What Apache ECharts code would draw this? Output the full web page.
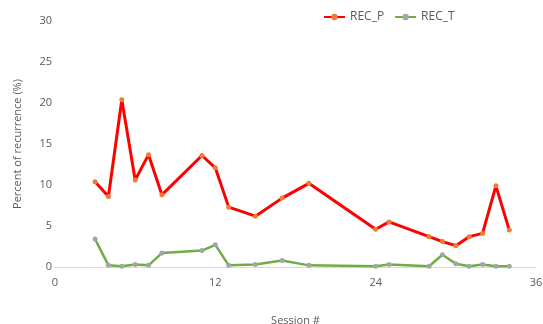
<!DOCTYPE html>
<html><head><meta charset="utf-8">
<script src="https://cdn.jsdelivr.net/npm/echarts@6/dist/echarts.min.js"></script>
<style>html,body{margin:0;padding:0;background:#fff}#c{width:543px;height:324px}</style>
</head><body><div id="c"></div>
<script>
var sessionsP = [3,4,5,6,7,8,11,12,13,15,17,19,24,25,28,29,30,31,32,33,34];
var recP = [10.4,8.6,20.4,10.6,13.7,8.8,13.6,12.1,7.3,6.2,8.4,10.2,4.6,5.5,3.7,3.1,2.6,3.7,4.1,9.9,4.5];
var sessionsT = [3,4,5,6,7,8,11,12,13,15,17,19,24,25,28,29,30,31,32,33,34];
var recT = [3.4,0.2,0.1,0.3,0.2,1.7,2.0,2.7,0.2,0.3,0.8,0.2,0.1,0.3,0.1,1.5,0.4,0.1,0.3,0.1,0.1];
var xTicks = [0,12,24,36];
var yTicks = [0,5,10,15,20,25,30];

function pairs(xs, ys){ return xs.map(function(x,i){return [x, ys[i]];}); }
var font = '"Open Sans", sans-serif';
var chart = echarts.init(document.getElementById('c'));
chart.setOption({
  animation:false,
  textStyle:{fontFamily:font},
  grid:{left:55,right:7,top:21,bottom:57,outerBoundsMode:'none',containLabel:false},
  legend:{
    top:6, left:318, itemWidth:21, itemHeight:8, itemGap:10,
    textStyle:{color:'#595959',fontSize:12,fontFamily:font},
    data:['REC_P','REC_T']
  },
  xAxis:{
    type:'value', min:xTicks[0], max:xTicks[xTicks.length-1], interval:12,
    name:'Session #', nameLocation:'middle', nameGap:48,
    nameTextStyle:{color:'#595959',fontSize:11},
    axisLine:{show:true,lineStyle:{color:'#D9D9D9',width:1}},
    axisTick:{show:false},
    splitLine:{show:false},
    axisLabel:{color:'#595959',fontSize:11,margin:10}
  },
  yAxis:{
    type:'value', min:yTicks[0], max:yTicks[yTicks.length-1], interval:5,
    name:'Percent of recurrence (%)', nameLocation:'middle', nameGap:32,
    nameTextStyle:{color:'#595959',fontSize:11},
    axisLine:{show:false}, axisTick:{show:false},
    splitLine:{show:false},
    axisLabel:{color:'#595959',fontSize:11,margin:3}
  },
  series:[
    {name:'REC_P', type:'line', data:pairs(sessionsP, recP),
     lineStyle:{color:'#FF0000',width:3}, itemStyle:{color:'#ED7D31'},
     symbol:'circle', symbolSize:5, showSymbol:true},
    {name:'REC_T', type:'line', data:pairs(sessionsT, recT),
     lineStyle:{color:'#70AD47',width:2.5}, itemStyle:{color:'#A5A5A5'},
     symbol:'circle', symbolSize:5, showSymbol:true}
  ]
});
</script></body></html>
